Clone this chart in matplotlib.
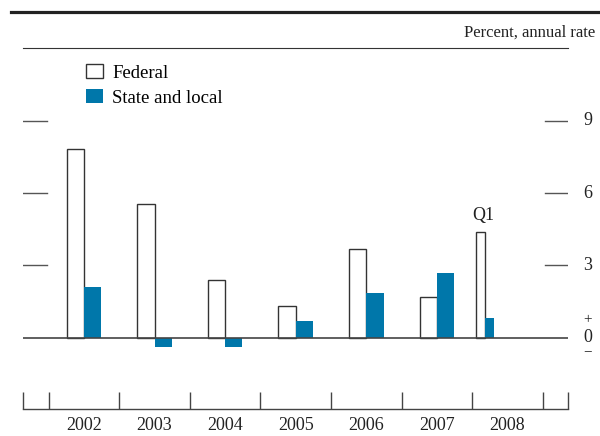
#!/usr/bin/env python3
"""Federal vs. state and local government spending growth, 2002-2008."""

import matplotlib
matplotlib.use("Agg")
import matplotlib.pyplot as plt
import matplotlib.lines as mlines
import matplotlib.patches as mpatches
import matplotlib.transforms as mtransforms

years = ["2002", "2003", "2004", "2005", "2006", "2007", "2008"]
federal = [7.83, 5.53, 2.41, 1.33, 3.69, 1.70, 4.37]
state_local = [2.10, -0.39, -0.39, 0.69, 1.85, 2.70, 0.82]
y_ticks = [3, 6, 9]

BLUE = "#0077aa"
INK = "#222222"

plt.rcParams["font.family"] = ["Liberation Serif", "DejaVu Serif"]

fig = plt.figure(figsize=(6, 4.36), dpi=100)
ax = fig.add_axes([0.0378, 0.0619, 0.9093, 0.8273])

# annual bars centred in each year slot; last year is Q1 only (narrower, first quarter)
n = len(years)
for i in range(n):
    if i == n - 1:
        mid, w = i + 0.18, 0.128
    else:
        mid, w = i + 0.5, 0.245
    ax.bar(mid - w / 2, federal[i], w, facecolor="white", edgecolor="#333333",
           linewidth=1.0, zorder=3)
    ax.bar(mid + w / 2, state_local[i], w, color=BLUE, linewidth=0, zorder=3)
    if i == n - 1:
        ax.text(mid - 0.03, federal[i] + 0.72, "Q1", ha="center", va="center",
                fontsize=13, color=INK)

ax.set_xlim(-0.368, n + 0.36)
ax.set_ylim(-2.958, 12.008)

# zero line and short tick marks on both sides
ax.axhline(0, color="#444444", lw=1.2, zorder=4)
for v in y_ticks:
    ax.axhline(v, xmin=0, xmax=0.045, color="#555555", lw=1.0)
    ax.axhline(v, xmin=0.958, xmax=1.0, color="#555555", lw=1.0)

trans = mtransforms.blended_transform_factory(ax.transAxes, ax.transData)
for v in y_ticks:
    ax.text(1.036, v, str(v), transform=trans, ha="center", va="center",
            fontsize=13, color=INK)
ax.text(1.036, 0, "0", transform=trans, ha="center", va="center", fontsize=13, color=INK)
ax.text(1.036, 0.74, "+", transform=trans, ha="center", va="center", fontsize=11, color=INK)
ax.text(1.036, -0.58, "\u2212", transform=trans, ha="center", va="center", fontsize=11,
        color=INK)

# bottom axis with year separators
for s in ["top", "left", "right"]:
    ax.spines[s].set_visible(False)
ax.spines["bottom"].set_color("#444444")
ax.spines["bottom"].set_linewidth(1.0)
tick_len = 12.2
ax.set_xticks([-0.368] + list(range(n + 1)) + [n + 0.36])
ax.set_xticklabels([])
ax.set_xticks([i + 0.5 for i in range(n)], minor=True)
ax.set_xticklabels(years, minor=True)
ax.tick_params(axis="x", which="major", direction="in", length=tick_len, width=1.0,
               color="#444444")
ax.tick_params(axis="x", which="minor", length=0, pad=6, labelsize=13, labelcolor=INK)
ax.set_yticks([])

# legend
handles = [
    mpatches.Patch(facecolor="white", edgecolor="#333333", linewidth=1.0, label="Federal"),
    mpatches.Patch(facecolor=BLUE, edgecolor="none", label="State and local"),
]
fig.legend(handles=handles, loc="upper left", bbox_to_anchor=(86 / 600, 1 - 64 / 436),
           bbox_transform=fig.transFigure, frameon=False, fontsize=13.5,
           handlelength=0.9, handleheight=0.78, handletextpad=0.5,
           labelspacing=0.4, borderpad=0, borderaxespad=0)

# header rules and unit label
fig.add_artist(mlines.Line2D([11 / 600, 1.0], [1 - 11.7 / 436] * 2, color=INK, lw=2.3))
fig.add_artist(mlines.Line2D([22.7 / 600, 568.3 / 600], [1 - 48.3 / 436] * 2,
                             color="#333333", lw=0.8))
fig.text(595 / 600, 1 - 33 / 436, "Percent, annual rate", ha="right", va="center",
         fontsize=12, color=INK)

fig.savefig("out.png", dpi=100)
